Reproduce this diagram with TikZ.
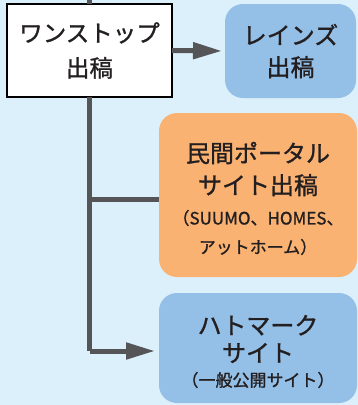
\documentclass[tikz,border=0pt]{standalone}
\usepackage{fontspec}
\setmainfont{Noto Sans CJK JP}[UprightFeatures={FakeBold=1.1}]
\usetikzlibrary{arrows.meta}
\definecolor{bg}{RGB}{220,240,251}
\definecolor{bluebox}{RGB}{148,191,230}
\definecolor{orangebox}{RGB}{250,178,115}
\definecolor{linegray}{RGB}{85,85,88}
\definecolor{txt}{RGB}{35,31,32}
\begin{document}
\begin{tikzpicture}[x=1pt,y=-1pt,
  boxbase/.style={inner sep=0pt,outer sep=0pt,text=txt},
  whitebox/.style={boxbase,draw=black,line width=2.5pt,fill=white},
  roundbox/.style={boxbase,rounded corners=18pt},
  bigtxt/.style={inner sep=0pt,text=txt,align=center,font=\fontsize{24}{32}\selectfont},
  smalltxt/.style={inner sep=0pt,text=txt,align=center,font=\fontsize{17}{29}\selectfont},
  conn/.style={line width=5pt,draw=linegray},
  arr/.style={conn,-{Triangle[length=29pt,width=16pt]}}
]
\useasboundingbox[fill=bg] (0,0) rectangle (358,405);

\node[whitebox,minimum width=165pt,minimum height=93pt,align=center,
  font=\fontsize{23.5}{35}\selectfont] (one) at (89.5,50.5) {ワンストップ\\出稿};
\node[roundbox,fill=bluebox,minimum width=131pt,minimum height=94pt,align=center,
  font=\fontsize{24}{32}\selectfont] (leinz) at (290.5,51) {レインズ\\出稿};
\node[roundbox,fill=orangebox,minimum width=198pt,minimum height=164pt] (portal) at (258,195) {};
\node[roundbox,fill=bluebox,minimum width=198pt,minimum height=110pt] (hat) at (258,348) {};

\node[bigtxt] (portaltxt) at (258,169) {民間ポータル\\サイト出稿};
\node[smalltxt] (portalsub) at (258,232.5) {（SUUMO、HOMES、\\アットホーム）};
\node[bigtxt,font=\fontsize{24}{27.5}\selectfont] (hattxt) at (258,339) {ハトマーク\\サイト};
\node[smalltxt] (hatsub) at (258,380) {（一般公開サイト）};

\coordinate (top) at (89.5,0);
\coordinate (mid) at (89.5,199);
\coordinate (bend) at (89.5,351);
\coordinate (hatin) at (159,351);
\coordinate (portalin) at (159,199);

\draw[conn] (top) -- (one.north);
\draw[conn] (one.south) -- (bend);
\draw[arr,shorten >=4pt] (bend) -- (hatin);
\draw[conn] (mid) -- (portalin);
\draw[arr,shorten >=3pt] (one.east) -- (leinz.west);
\end{tikzpicture}
\end{document}
